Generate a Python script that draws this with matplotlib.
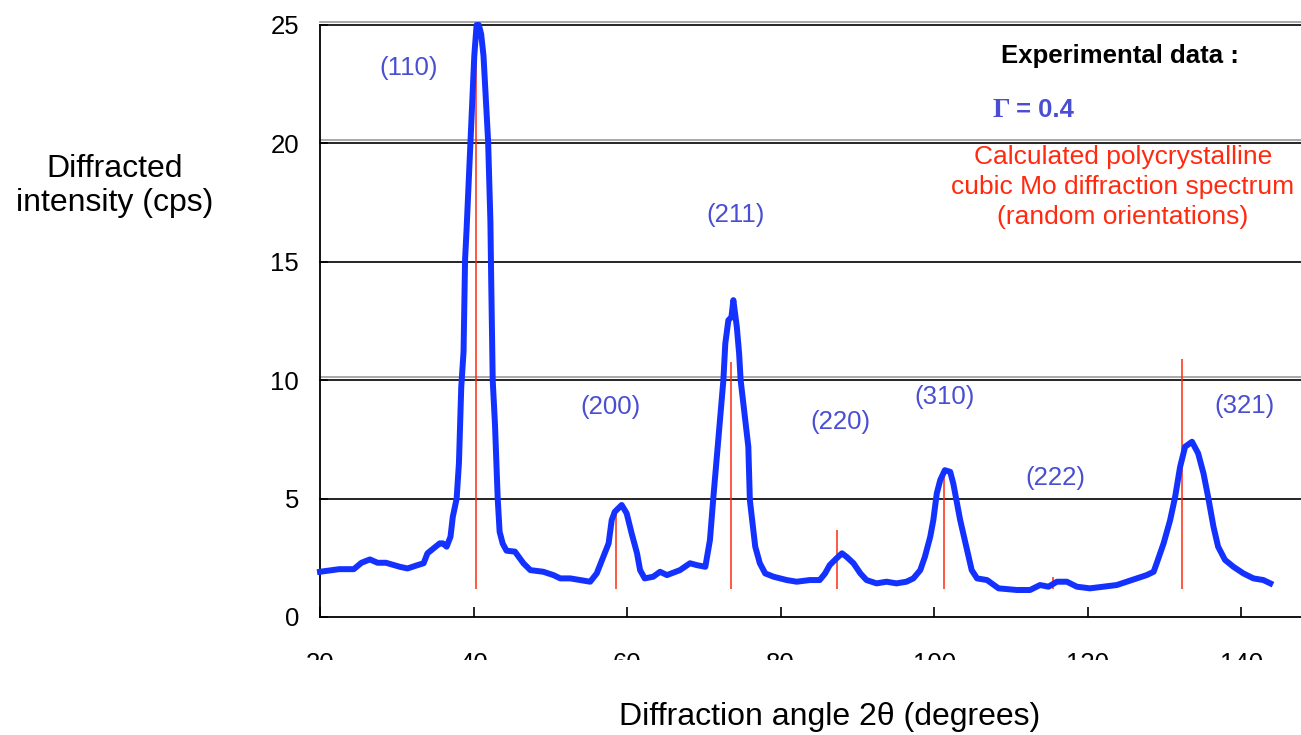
import numpy as np
import matplotlib
matplotlib.use("Agg")
import matplotlib.pyplot as plt
from matplotlib.patches import Rectangle

plt.rcParams['font.family'] = ['Liberation Sans', 'DejaVu Sans']

two_theta = [20.0, 22.5, 24.4, 25.4, 26.5, 27.5, 28.6, 30.4, 31.4, 32.7, 33.5, 34.0, 34.8, 35.6, 36.0, 36.5, 37.0, 37.3, 37.8,
             38.1, 38.4, 38.7, 38.9, 39.1, 39.6, 40.1, 40.4, 40.7, 41.0, 41.3, 41.9, 42.2, 42.3, 42.5, 42.8, 43.15, 43.4, 43.8,
             44.3, 45.4, 46.5, 47.4, 49.1, 50.4, 51.3, 52.6, 53.9, 55.2, 56.05, 56.9, 57.6, 58.0, 58.4, 59.3, 59.95, 60.6, 61.3,
             61.7, 62.3, 63.4, 64.3, 65.2, 66.9, 68.2, 69.1, 70.2, 70.8, 71.25, 71.7, 72.1, 72.55, 72.8, 73.2, 73.6, 73.85, 74.3,
             74.6, 74.8, 75.4, 75.8, 76.0, 76.7, 77.3, 78.0, 79.1, 80.8, 82.1, 83.8, 85.1, 85.8, 86.4, 87.3, 88.0, 88.6, 89.5,
             90.4, 91.2, 92.5, 93.8, 95.1, 96.4, 97.3, 98.2, 98.8, 99.5, 99.9, 100.35, 100.8, 101.4, 102.1, 102.5, 103.4, 104.3,
             104.9, 105.6, 106.9, 108.4, 110.8, 112.5, 113.8, 114.9, 116.0, 117.3, 118.6, 120.3, 122.1, 123.8, 125.1, 126.4,
             127.7, 128.6, 129.0, 129.9, 130.75, 131.4, 132.05, 132.7, 133.6, 134.4, 135.1, 135.7, 136.4, 137.0, 137.9, 139.0,
             140.3, 141.6, 142.9, 143.8]
intensity = [1.91, 2.02, 2.02, 2.29, 2.43, 2.29, 2.29, 2.12, 2.05, 2.19, 2.27, 2.69, 2.90, 3.11, 3.11, 2.97, 3.39, 4.23, 5.0,
             6.5, 9.7, 11.2, 15.1, 16.4, 20.1, 23.7, 25.0, 25.0, 24.6, 23.7, 20.1, 16.7, 14.3, 10.0, 8.1, 5.0, 3.6, 3.1,
             2.8, 2.76, 2.27, 1.98, 1.91, 1.77, 1.63, 1.63, 1.56, 1.49, 1.84, 2.54, 3.11, 4.09, 4.44, 4.73, 4.38, 3.53, 2.69,
             1.98, 1.63, 1.70, 1.91, 1.77, 1.98, 2.27, 2.19, 2.12, 3.25, 5.07, 6.76, 8.31, 10.0, 11.55, 12.53, 12.67, 13.38, 12.25,
             11.13, 10.0, 8.31, 7.19, 4.94, 2.97, 2.27, 1.84, 1.70, 1.56, 1.49, 1.56, 1.56, 1.84, 2.19, 2.48, 2.69, 2.54, 2.27,
             1.84, 1.56, 1.42, 1.49, 1.42, 1.49, 1.63, 1.98, 2.54, 3.39, 4.09, 5.22, 5.78, 6.2, 6.13, 5.64, 4.09, 2.83,
             1.98, 1.63, 1.56, 1.21, 1.14, 1.14, 1.35, 1.28, 1.49, 1.49, 1.28, 1.21, 1.28, 1.35, 1.49, 1.63,
             1.77, 1.91, 2.27, 3.11, 4.09, 5.07, 6.34, 7.19, 7.40, 6.91, 6.06, 5.07, 3.81, 2.97, 2.41, 2.12,
             1.84, 1.63, 1.56, 1.42]

# calculated stick spectrum (random orientations)
calc_pos = [40.3, 58.5, 73.5, 87.4, 101.3, 115.5, 132.3]
calc_top = [25.0, 4.64, 10.76, 3.67, 6.0, 1.67, 10.9]
calc_base = 1.18

hkl = ['(110)', '(200)', '(211)', '(220)', '(310)', '(222)', '(321)']
hkl_x = [31.5, 57.9, 74.1, 87.75, 101.4, 115.8, 140.5]
hkl_y = [23.2, 8.86, 16.96, 8.23, 9.28, 5.86, 8.9]

blue = '#1432ff'
label_blue = '#4a4fd2'
red = '#ff2a10'

fig = plt.figure(figsize=(13.01, 7.35), dpi=100)
ax = fig.add_axes([320 / 1301, 118 / 735, 981 / 1301, 592 / 735])

for y in [5, 10, 15, 20, 25]:
    ax.axhline(y, color='black', lw=1.2, zorder=1, clip_on=False)
for y in [10, 20, 25]:
    ax.axhline(y + 0.13, color='#999999', lw=1.2, zorder=1, clip_on=False)

ax.vlines(calc_pos, calc_base, calc_top, colors=red, lw=1.1, zorder=2)
ax.plot(two_theta, intensity, color=blue, lw=4.3, zorder=3, clip_on=False, solid_joinstyle='round')

for t, x, y in zip(hkl, hkl_x, hkl_y):
    ax.text(x, y, t, color=label_blue, fontsize=18.5, ha='center', va='center')

ax.text(124.2, 23.7, 'Experimental data :', fontsize=18.5, fontweight='bold', ha='center', va='center')
ax.text(107.6, 21.4, 'Γ', family='Liberation Serif', fontsize=20, fontweight='bold', color=label_blue,
        ha='left', va='center')
ax.text(110.7, 21.4, '= 0.4', fontsize=18.5, fontweight='bold', color=label_blue, ha='left', va='center')
ax.text(124.6, 18.15, 'Calculated polycrystalline\ncubic Mo diffraction spectrum\n(random orientations)',
        color=red, fontsize=19, ha='center', va='center', multialignment='center', linespacing=1.32)

ax.set_xlim(20, 147.8)
ax.set_ylim(0, 25)
ax.set_xticks(range(20, 141, 20))
ax.set_yticks(range(0, 26, 5))
ax.tick_params(axis='x', direction='in', length=7, width=1.2, pad=25, labelsize=18.5)
ax.tick_params(axis='y', direction='in', length=6, width=1.2, pad=15, labelsize=18.5)
for s in ['top', 'right']:
    ax.spines[s].set_visible(False)
for s in ['left', 'bottom']:
    ax.spines[s].set_linewidth(1.3)

# the x tick numbers are cut off at the bottom in the original
fig.patches.append(Rectangle((0.2, 45 / 735), 0.8, 30 / 735, transform=fig.transFigure,
                             facecolor='white', edgecolor='none', zorder=5))

fig.text(115 / 1301, (735 - 186) / 735, 'Diffracted\nintensity (cps)', fontsize=23, ha='center', va='center',
         linespacing=1.2)
fig.text(830 / 1301, (735 - 717) / 735, 'Diffraction angle 2θ (degrees)', fontsize=23, ha='center', va='center',
         zorder=10)

fig.savefig('out.png', dpi=100)
